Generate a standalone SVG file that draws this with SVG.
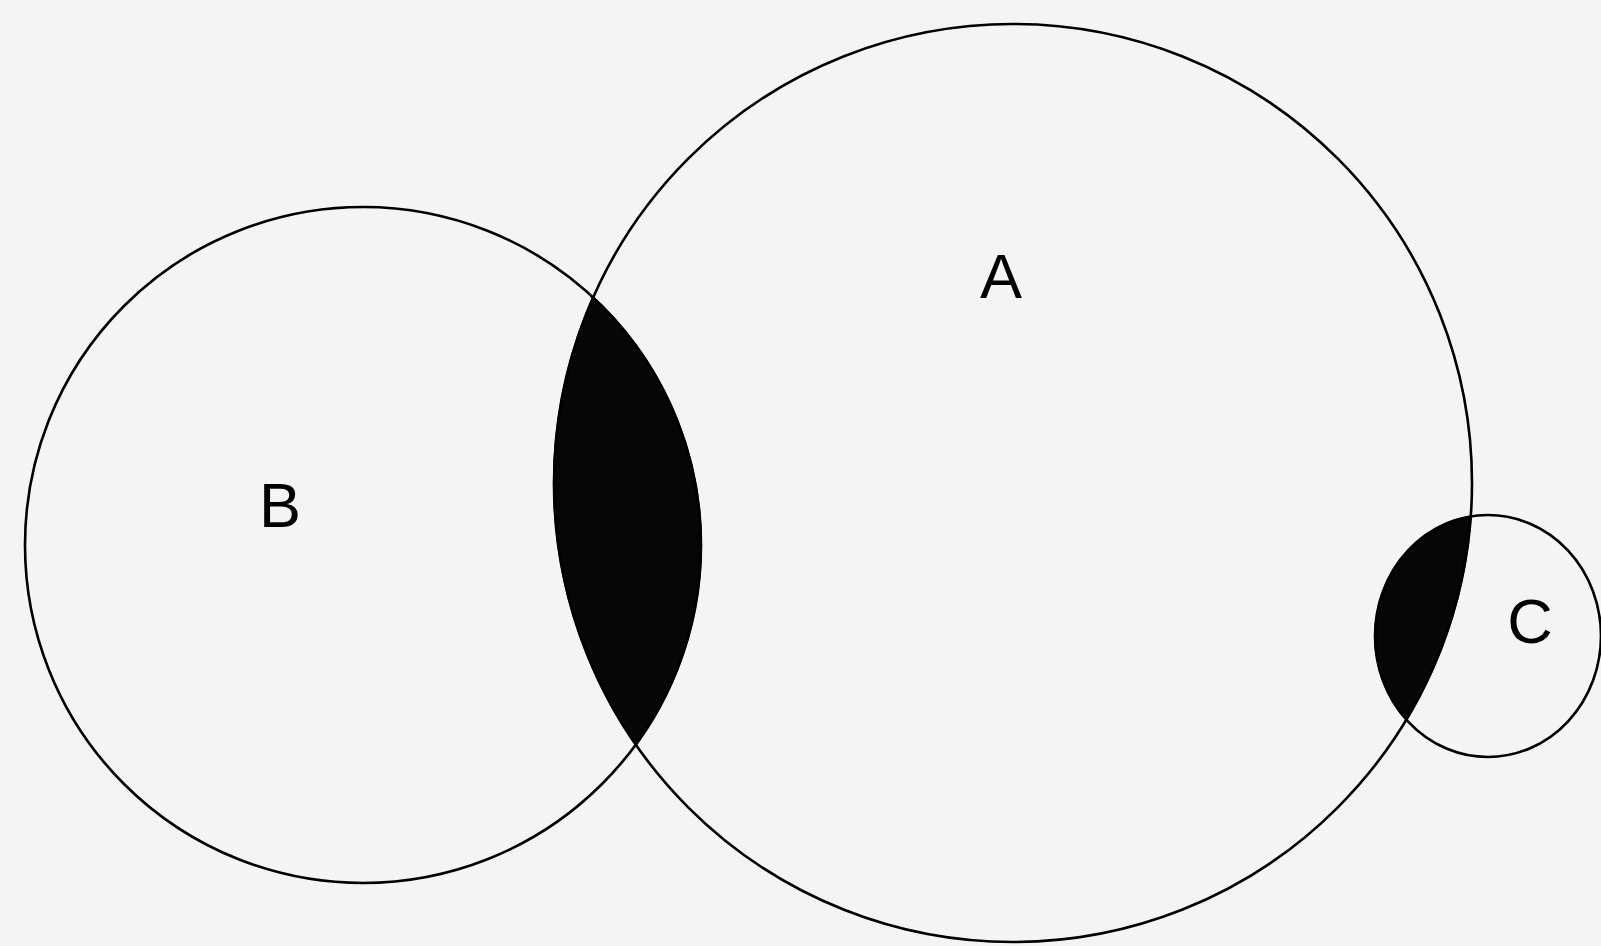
<svg xmlns="http://www.w3.org/2000/svg" width="1601" height="946" viewBox="0 0 1601 946">
<style>
.ring{fill:none;stroke:#000;stroke-width:2.6}
.lens{fill:#060606;stroke:#000;stroke-width:2}
.lbl{font-family:"Liberation Sans",Arial,sans-serif;font-size:63px;fill:#000;text-anchor:middle}
</style>
<rect x="0" y="0" width="1601" height="946" fill="#f4f4f4"/>
<g id="overlaps">
<path class="lens" d="M593.1,297.4 A338,338 0 0 1 635.8,744.6 A459,459 0 0 1 593.1,297.4 Z"/>
<path class="lens" d="M1470.8,516.6 A459,459 0 0 1 1406.4,719.6 A113,121 0 0 1 1470.8,516.6 Z"/>
</g>
<g id="A">
<circle class="ring" cx="1013" cy="483" r="459"/>
<text class="lbl" x="1001" y="298">A</text>
</g>
<g id="B">
<circle class="ring" cx="363" cy="545" r="338"/>
<text class="lbl" x="280" y="527">B</text>
</g>
<g id="C">
<ellipse class="ring" cx="1488" cy="636" rx="113" ry="121"/>
<text class="lbl" x="1530" y="643">C</text>
</g>
<g id="connectors"></g>
</svg>
